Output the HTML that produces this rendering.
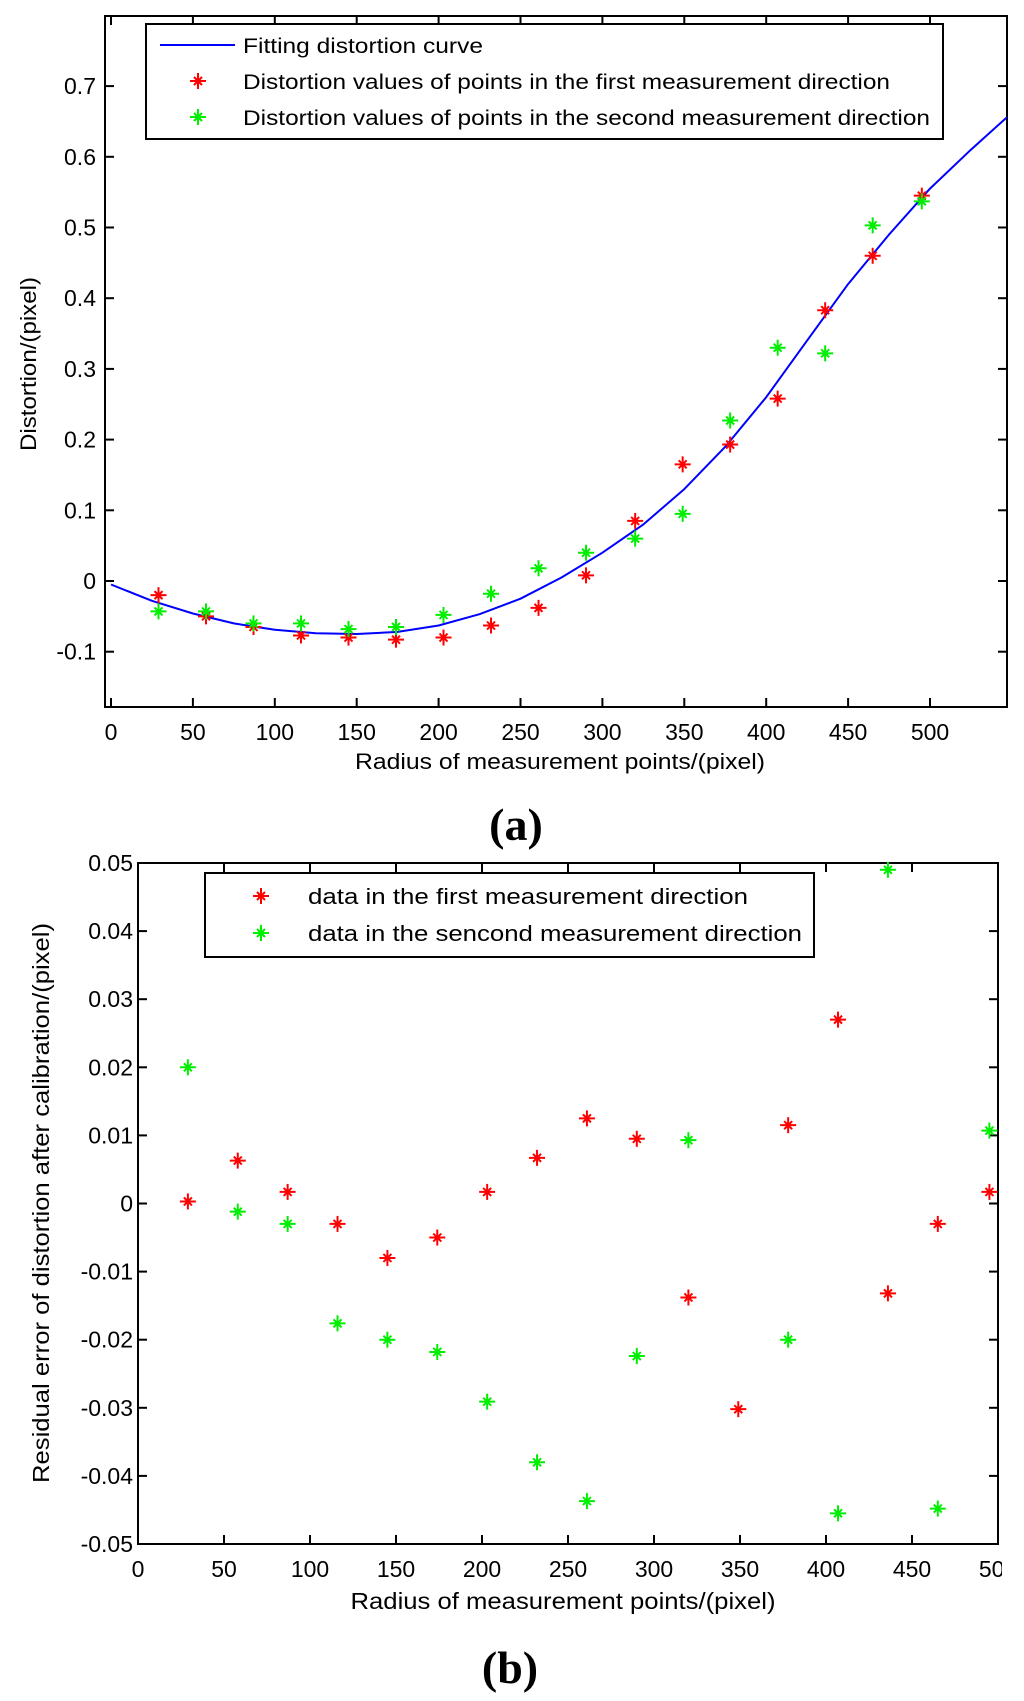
<!DOCTYPE html>
<html><head><meta charset="utf-8"><style>
html,body{margin:0;padding:0;background:#fff;width:1024px;height:1701px;overflow:hidden}
svg{display:block}
text{font-family:"Liberation Sans",sans-serif;fill:#000}
</style></head><body>
<svg id="fig" width="1024" height="1701" viewBox="0 0 1024 1701" xmlns="http://www.w3.org/2000/svg">
<defs><clipPath id="clipR"><rect x="0" y="0" width="1002" height="1701"/></clipPath></defs>
<g id="chartA"></g>
<g id="chartB"></g>
</svg>
<script>
// ---- Chart (a) data ----
const radiiA = [29,58,87,116,145,174,203,232,261,290,320,349,378,407,436,465,495];
const firstDirA = [-0.02,-0.05,-0.065,-0.077,-0.08,-0.083,-0.08,-0.063,-0.038,0.008,0.085,0.165,0.193,0.258,0.383,0.46,0.545];
const secondDirA = [-0.043,-0.043,-0.06,-0.06,-0.068,-0.065,-0.048,-0.018,0.018,0.04,0.06,0.095,0.227,0.33,0.322,0.503,0.537];
const curveX = [0,25,50,75,100,125,150,175,200,225,250,275,300,325,350,375,400,425,450,475,500,525,547];
const curveY = [-0.005,-0.028,-0.046,-0.06,-0.069,-0.074,-0.075,-0.072,-0.063,-0.047,-0.025,0.005,0.04,0.08,0.13,0.19,0.26,0.34,0.42,0.49,0.555,0.61,0.656];
const xTicksA = [0,50,100,150,200,250,300,350,400,450,500];
const yTicksA = [-0.1,0,0.1,0.2,0.3,0.4,0.5,0.6,0.7];
// ---- Chart (b) data ----
const radiiB = [29,58,87,116,145,174,203,232,261,290,320,349,378,407,436,465,495];
const firstDirB = [0.0003,0.0063,0.0017,-0.003,-0.008,-0.005,0.0017,0.0067,0.0125,0.0095,-0.0138,-0.0302,0.0115,0.027,-0.0132,-0.003,0.0017];
const secondDirB = [0.02,-0.0012,-0.003,-0.0176,-0.02,-0.0218,-0.0291,-0.038,-0.0437,-0.0224,0.0093,null,-0.02,-0.0455,0.049,-0.0448,0.0107];
const xTicksB = [0,50,100,150,200,250,300,350,400,450,500];
const yTicksB = [-0.05,-0.04,-0.03,-0.02,-0.01,0,0.01,0.02,0.03,0.04,0.05];

const NS='http://www.w3.org/2000/svg';
function mk(parent,tag,attrs,txt){const e=document.createElementNS(NS,tag);for(const k in attrs)e.setAttribute(k,attrs[k]);if(txt!==undefined)e.textContent=txt;parent.appendChild(e);return e;}
function star(g,cx,cy,color){
  const s=mk(g,'g',{stroke:color,'stroke-width':2});
  
  
  mk(s,'line',{x1:cx-8,y1:cy,x2:cx+8,y2:cy});
  mk(s,'line',{x1:cx,y1:cy-8,x2:cx,y2:cy+8});
  mk(s,'line',{x1:cx-4,y1:cy-4,x2:cx+4,y2:cy+4});
  mk(s,'line',{x1:cx-4,y1:cy+4,x2:cx+4,y2:cy-4});
  return s;
}
function fmt(v,d){let s=v.toFixed(d);if(Math.abs(v)<1e-9)s='0';return s;}

// ===== Chart A =====
(function(){
  const g=document.getElementById('chartA');
  const L=105,R=1007,T=16,B=707;
  const xA=v=>111+v*1.638;
  const yA=v=>581-v*707;
  mk(g,'rect',{x:L,y:T,width:R-L,height:B-T,fill:'#fff',stroke:'#000','stroke-width':2});
  xTicksA.forEach(v=>{
    const x=xA(v);
    mk(g,'line',{x1:x,y1:B,x2:x,y2:B-9,stroke:'#000','stroke-width':2});
    mk(g,'line',{x1:x,y1:T,x2:x,y2:T+9,stroke:'#000','stroke-width':2});
    const t=mk(g,'text',{x:x,y:B+33,'text-anchor':'middle','font-size':23},String(v));
    
    
  });
  yTicksA.forEach(v=>{
    const y=yA(v);
    mk(g,'line',{x1:L,y1:y,x2:L+9,y2:y,stroke:'#000','stroke-width':2});
    mk(g,'line',{x1:R,y1:y,x2:R-9,y2:y,stroke:'#000','stroke-width':2});
    const t=mk(g,'text',{x:L-9,y:y+8,'text-anchor':'end','font-size':23},fmt(v,1));
    
    
  });
  const pts=curveX.map((x,i)=>xA(x).toFixed(1)+','+yA(curveY[i]).toFixed(1)).join(' ');
  const c=mk(g,'polyline',{points:pts,fill:'none',stroke:'#0000ff','stroke-width':2,'stroke-linejoin':'round'});
  
  
  radiiA.forEach((r,i)=>{star(g,xA(r),yA(firstDirA[i]),'#ff0000');});
  radiiA.forEach((r,i)=>{star(g,xA(r),yA(secondDirA[i]),'#00ee00');});
  const lg=mk(g,'g',{});
  
  
  mk(lg,'rect',{x:146,y:24,width:797,height:115,fill:'#fff',stroke:'#000','stroke-width':2});
  mk(lg,'line',{x1:160,y1:45,x2:235,y2:45,stroke:'#0000ff','stroke-width':2});
  star(lg,198,81,'#ff0000');
  star(lg,198,117,'#00ee00');
  mk(lg,'text',{x:243,y:53,'font-size':21,textLength:240,lengthAdjust:'spacingAndGlyphs'},'Fitting distortion curve');
  mk(lg,'text',{x:243,y:89,'font-size':21,textLength:647,lengthAdjust:'spacingAndGlyphs'},'Distortion values of points in the first measurement direction');
  mk(lg,'text',{x:243,y:125,'font-size':21,textLength:687,lengthAdjust:'spacingAndGlyphs'},'Distortion values of points in the second measurement direction');
  const xl=mk(g,'text',{x:560,y:769,'text-anchor':'middle','font-size':22,textLength:410,lengthAdjust:'spacingAndGlyphs'},'Radius of measurement points/(pixel)');
  
  
  const yl=mk(g,'text',{x:0,y:0,'text-anchor':'middle','font-size':22,transform:'translate(36,364) rotate(-90)',textLength:174,lengthAdjust:'spacingAndGlyphs'},'Distortion/(pixel)');
  
  
  const cap=mk(g,'text',{x:516,y:840,'text-anchor':'middle',style:'font-family:"Liberation Serif",serif;font-weight:bold;font-size:46px'},'(a)');
  
  
})();

// ===== Chart B =====
(function(){
  const g=document.getElementById('chartB');
  const L=138,R=998,T=863,B=1544;
  const xB=v=>138+v*1.72;
  const yB=v=>1203.5-v*6810;
  mk(g,'rect',{x:L,y:T,width:R-L,height:B-T,fill:'#fff',stroke:'#000','stroke-width':2});
  const lbl=mk(g,'g',{'clip-path':'url(#clipR)'});
  xTicksB.forEach(v=>{
    const x=xB(v);
    mk(g,'line',{x1:x,y1:B,x2:x,y2:B-9,stroke:'#000','stroke-width':2});
    mk(g,'line',{x1:x,y1:T,x2:x,y2:T+9,stroke:'#000','stroke-width':2});
    const t=mk(lbl,'text',{x:x,y:B+33,'text-anchor':'middle','font-size':23},String(v));
    
    
  });
  yTicksB.forEach(v=>{
    const y=yB(v);
    mk(g,'line',{x1:L,y1:y,x2:L+9,y2:y,stroke:'#000','stroke-width':2});
    mk(g,'line',{x1:R,y1:y,x2:R-9,y2:y,stroke:'#000','stroke-width':2});
    const t=mk(g,'text',{x:L-5,y:y+8,'text-anchor':'end','font-size':23},fmt(v,2));
    
    
  });
  radiiB.forEach((r,i)=>{star(g,xB(r),yB(firstDirB[i]),'#ff0000');});
  radiiB.forEach((r,i)=>{if(secondDirB[i]!==null)star(g,xB(r),yB(secondDirB[i]),'#00ee00');});
  const lg=mk(g,'g',{});
  
  
  mk(lg,'rect',{x:205,y:873,width:609,height:84,fill:'#fff',stroke:'#000','stroke-width':2});
  star(lg,261,896,'#ff0000');
  star(lg,261,933,'#00ee00');
  mk(lg,'text',{x:308,y:904,'font-size':22,textLength:440,lengthAdjust:'spacingAndGlyphs'},'data in the first measurement direction');
  mk(lg,'text',{x:308,y:941,'font-size':22,textLength:494,lengthAdjust:'spacingAndGlyphs'},'data in the sencond measurement direction');
  const xl=mk(g,'text',{x:563,y:1609,'text-anchor':'middle','font-size':23,textLength:425,lengthAdjust:'spacingAndGlyphs'},'Radius of measurement points/(pixel)');
  
  
  const yl=mk(g,'text',{x:0,y:0,'text-anchor':'middle','font-size':23,transform:'translate(49,1203) rotate(-90)',textLength:560,lengthAdjust:'spacingAndGlyphs'},'Residual error of distortion after calibration/(pixel)');
  
  
  const cap=mk(g,'text',{x:510,y:1683,'text-anchor':'middle',style:'font-family:"Liberation Serif",serif;font-weight:bold;font-size:46px'},'(b)');
  
  
})();
</script>
</body></html>
